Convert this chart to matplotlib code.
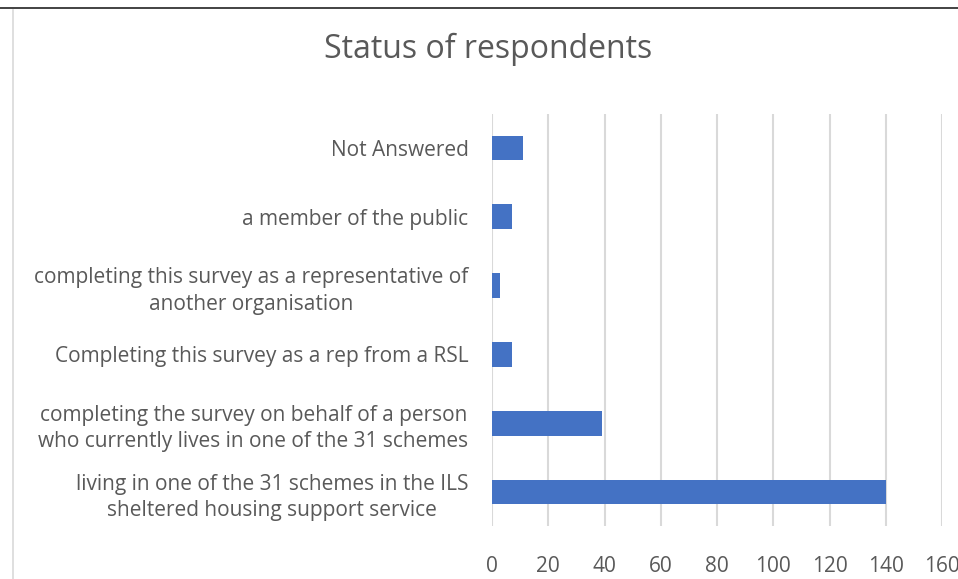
import matplotlib.pyplot as plt
from matplotlib.lines import Line2D

plt.rcParams['font.family'] = ['Open Sans', 'DejaVu Sans']

# categories, top to bottom as in the picture
categories = [
    'Not Answered',
    'a member of the public',
    'completing this survey as a representative of\nanother organisation',
    'Completing this survey as a rep from a RSL',
    'completing the survey on behalf of a person\nwho currently lives in one of the 31 schemes',
    'living in one of the 31 schemes in the ILS\nsheltered housing support service',
]
counts = [11, 7, 3, 7, 39, 140]
xticks = [0, 20, 40, 60, 80, 100, 120, 140, 160]

grey = '#595959'

fig = plt.figure(figsize=(9.58, 5.79), dpi=100)
ax = fig.add_axes([0.5136, 0.0907, 0.4697, 0.7131])

ypos = list(range(len(categories)))
ax.barh(ypos, counts, height=0.36, color='#4472C4', zorder=3)
ax.set_ylim(len(categories) - 0.5, -0.5)
ax.set_xlim(0, 160)
ax.set_xticks(xticks)
ax.set_yticks(ypos)
ax.set_yticklabels(categories, multialignment='center', linespacing=1.35)
ax.grid(axis='x', color='#d9d9d9', linewidth=1.5, zorder=0)
ax.tick_params(axis='both', length=0, labelsize=15, colors=grey)
ax.tick_params(axis='y', pad=17)
ax.tick_params(axis='x', pad=21)
for s in ax.spines.values():
    s.set_visible(False)

fig.text(0.51, 0.914, 'Status of respondents', ha='center', va='center',
         fontsize=23, color=grey)

# outer frame lines
fig.add_artist(Line2D([0, 1], [1 - 8 / 579, 1 - 8 / 579], color='#222222', linewidth=1.2))
fig.add_artist(Line2D([12.5 / 958, 12.5 / 958], [0, 1 - 10 / 579], color='#d9d9d9', linewidth=1.2))

fig.savefig('out.png', dpi=100)
